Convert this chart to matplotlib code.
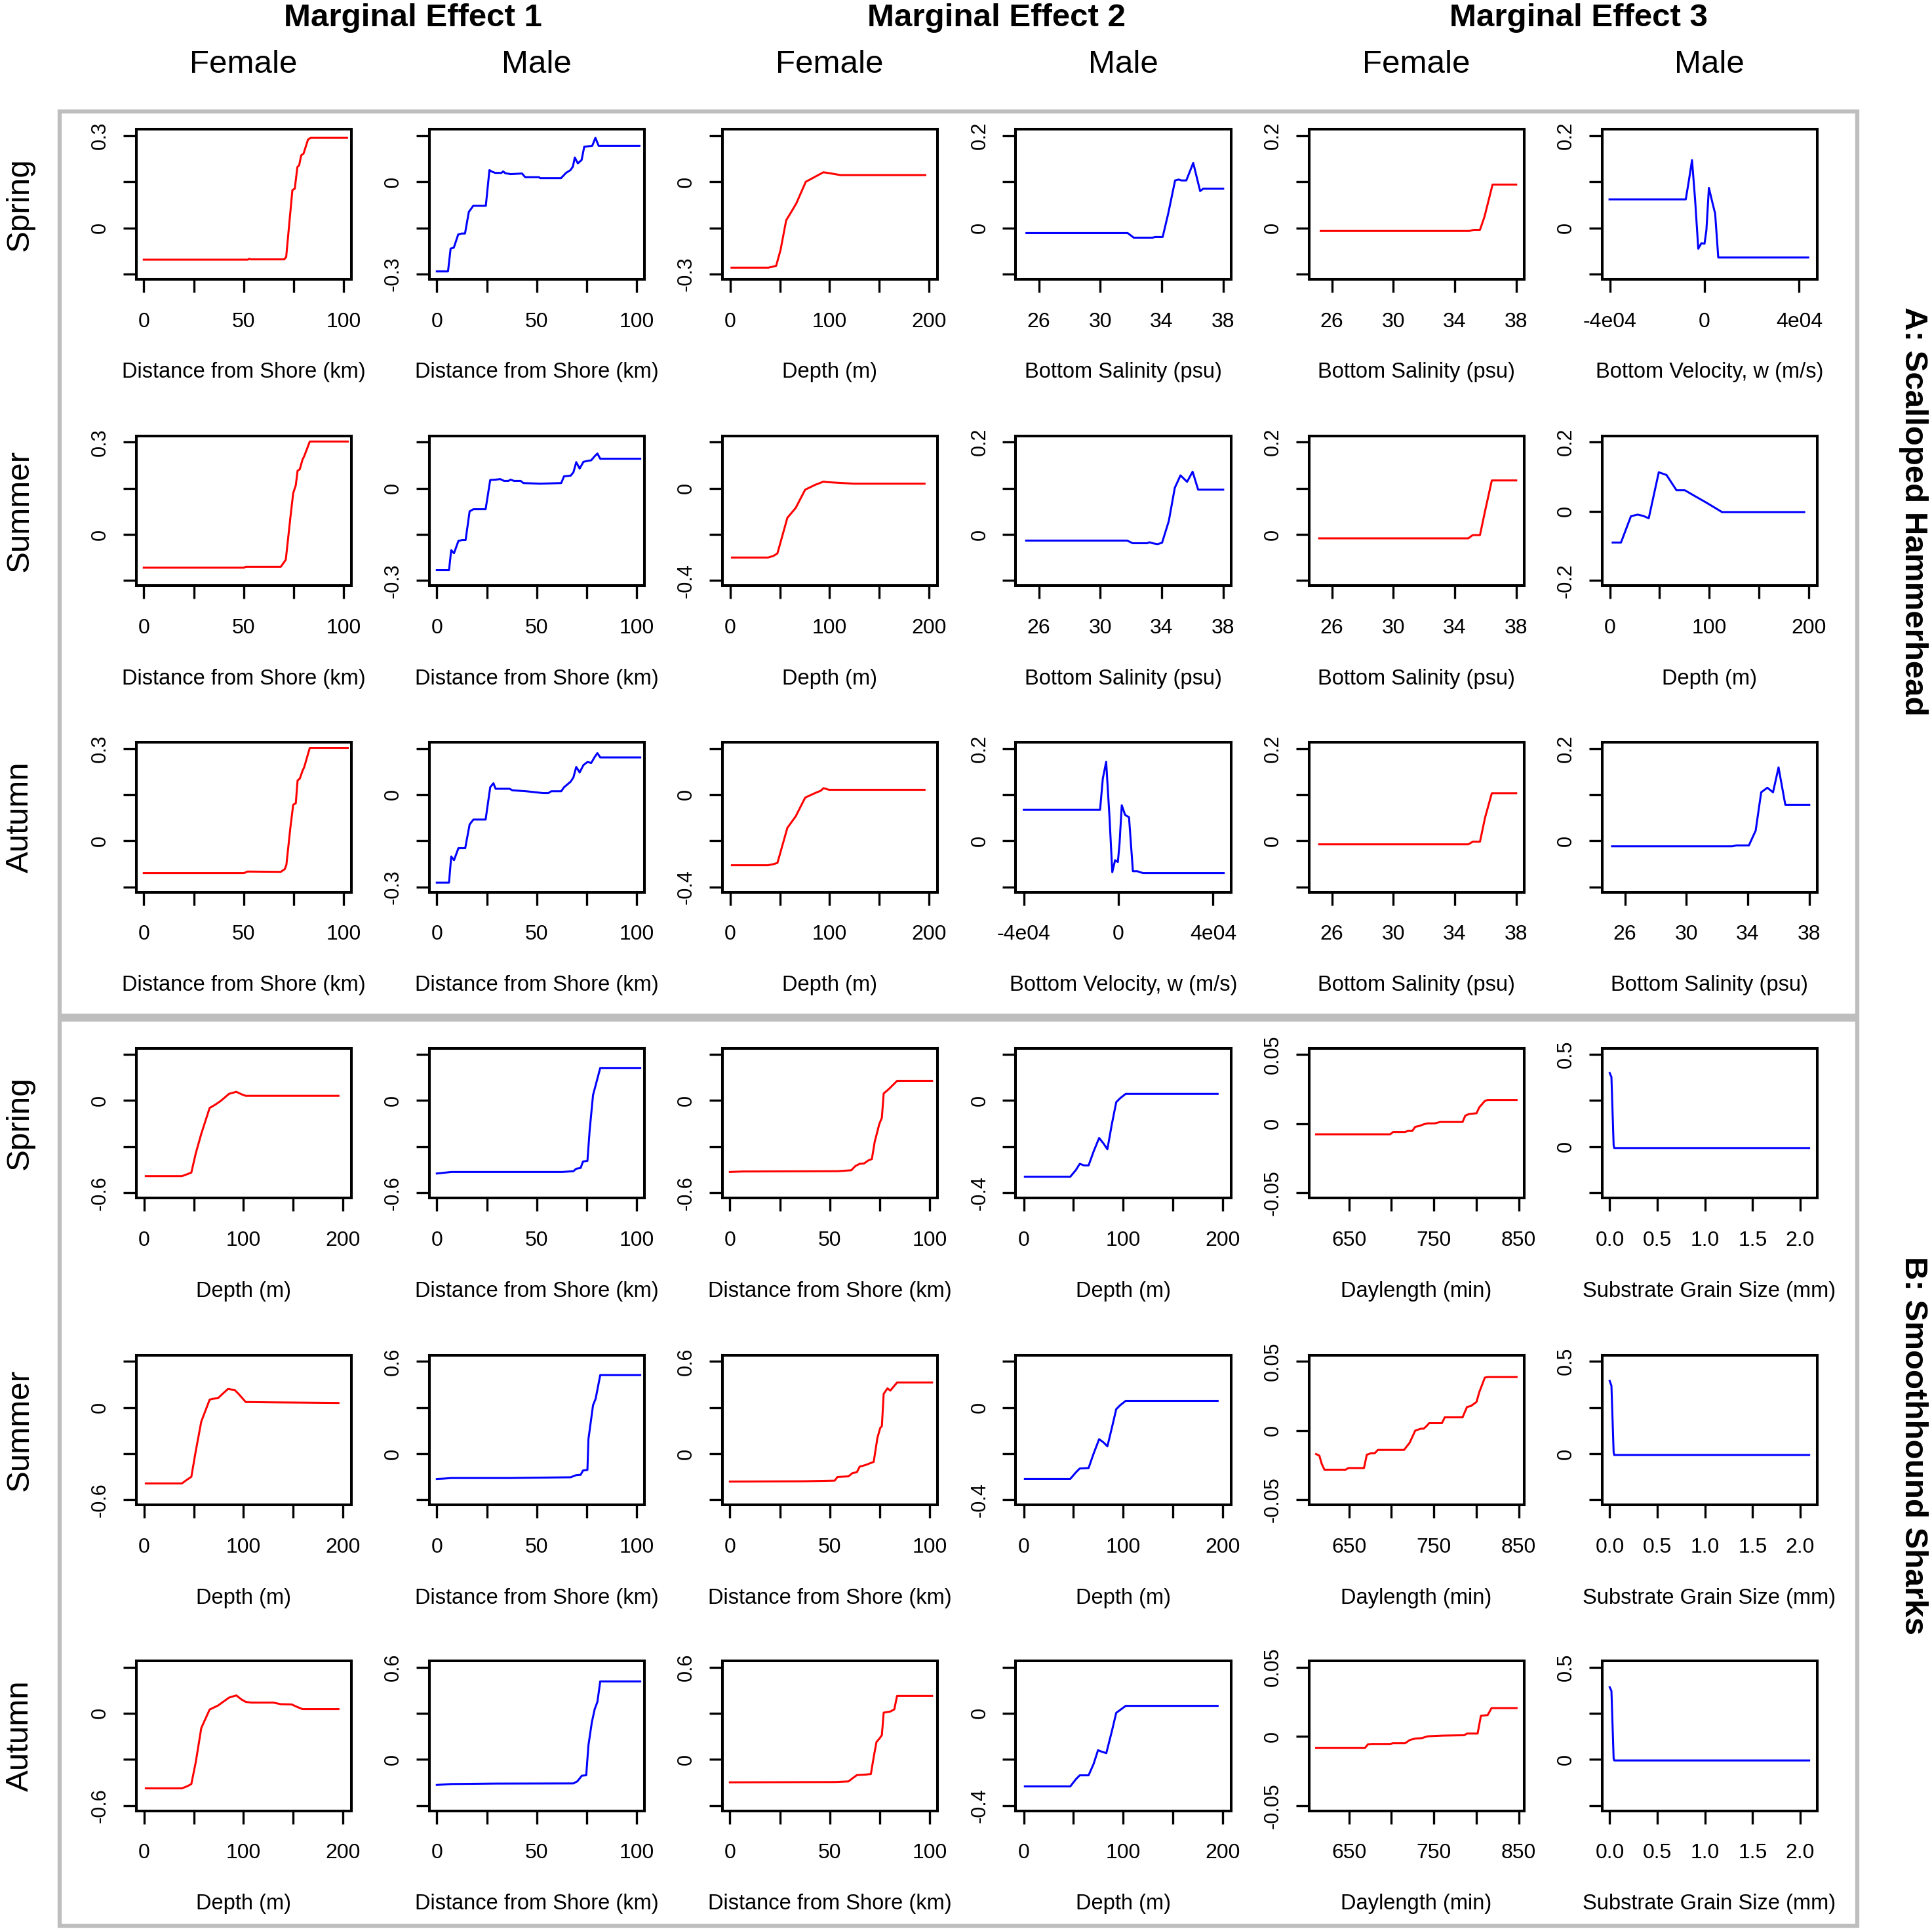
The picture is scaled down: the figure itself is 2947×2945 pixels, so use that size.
import matplotlib
matplotlib.use("Agg")
import matplotlib.pyplot as plt
from matplotlib.patches import Rectangle

plt.rcParams['font.family'] = ['Liberation Sans', 'DejaVu Sans']

# ---------------- data ----------------
# A: Scalloped Hammerhead
hh_spring_f1_x = [0, 52, 52.7, 53.5, 70.2, 71.2, 74.3, 75.5, 76.8, 77.7, 78.7, 79.9, 82.1, 83.4, 101.6]
hh_spring_f1_y = [-0.103, -0.103, -0.100, -0.102, -0.102, -0.094, 0.123, 0.128, 0.198, 0.204, 0.236, 0.242, 0.287, 0.293, 0.293]
hh_spring_m1_x = [0, 5.6, 6.9, 8.5, 10.7, 12.5, 14.1, 16.0, 18.2, 24.5, 26.3, 27.6, 29.2, 32.3, 33.2, 34.2, 37.0, 42.6, 44.2, 51.1, 51.7, 62.1, 64.6, 66.8, 68.0, 69.0, 70.5, 72.4, 73.7, 77.7, 79.3, 80.9, 101.3]
hh_spring_m1_y = [-0.291, -0.291, -0.217, -0.214, -0.171, -0.168, -0.168, -0.098, -0.078, -0.078, 0.038, 0.033, 0.029, 0.029, 0.034, 0.028, 0.025, 0.027, 0.015, 0.015, 0.012, 0.012, 0.029, 0.038, 0.049, 0.079, 0.060, 0.071, 0.114, 0.117, 0.143, 0.117, 0.117]
hh_spring_f2_x = [1.3, 38.6, 46.2, 50.6, 56.3, 61.4, 66.5, 76.0, 93.7, 98.1, 110.8, 196.2]
hh_spring_f2_y = [-0.279, -0.279, -0.273, -0.222, -0.125, -0.098, -0.070, 0.0, 0.031, 0.029, 0.022, 0.022]
hh_spring_m2_x = [25.19, 31.78, 32.18, 33.40, 33.57, 34.06, 34.42, 34.87, 35.11, 35.28, 35.60, 36.05, 36.50, 36.70, 38.0]
hh_spring_m2_y = [-0.011, -0.011, -0.021, -0.021, -0.0195, -0.0195, 0.031, 0.103, 0.105, 0.103, 0.103, 0.141, 0.080, 0.085, 0.085]
hh_spring_f3_x = [25.27, 34.95, 35.24, 35.64, 35.93, 36.46, 38.0]
hh_spring_f3_y = [-0.0065, -0.0065, -0.004, -0.004, 0.024, 0.094, 0.094]
hh_spring_m3_x = [-40130, -7920, -6600, -5280, -3960, -2640, -1320, 0, 790, 1850, 3430, 4490, 5810, 43830]
hh_spring_m3_y = [0.062, 0.062, 0.103, 0.147, 0.060, -0.045, -0.033, -0.034, -0.005, 0.087, 0.053, 0.031, -0.064, -0.064]

hh_summer_f1_x = [0, 50.1, 51.0, 68.5, 69.9, 71.0, 73.3, 74.7, 76.0, 76.9, 78.0, 79.4, 80.2, 83.0, 102.0]
hh_summer_f1_y = [-0.108, -0.108, -0.105, -0.105, -0.0925, -0.082, 0.055, 0.134, 0.160, 0.207, 0.212, 0.244, 0.254, 0.302, 0.302]
hh_summer_m1_x = [0, 6.1, 7.2, 8.6, 10.8, 12.8, 14.4, 16.4, 18.3, 24.4, 26.7, 29.4, 31.7, 33.6, 35.8, 36.9, 38.6, 41.9, 43.3, 51.7, 62.2, 63.6, 66.9, 68.3, 69.7, 71.4, 73.3, 75.3, 77.2, 78.9, 80.3, 81.7, 101.7]
hh_summer_m1_y = [-0.266, -0.266, -0.201, -0.211, -0.171, -0.168, -0.168, -0.075, -0.068, -0.068, 0.027, 0.028, 0.030, 0.024, 0.024, 0.028, 0.024, 0.024, 0.017, 0.015, 0.017, 0.039, 0.041, 0.052, 0.085, 0.064, 0.086, 0.089, 0.091, 0.104, 0.113, 0.096, 0.096]
hh_summer_f2_x = [1.7, 38.0, 43.6, 47.5, 57.5, 65.9, 75.4, 85.5, 93.9, 96.6, 107.8, 124.6, 195.5]
hh_summer_f2_y = [-0.300, -0.300, -0.293, -0.282, -0.128, -0.085, -0.006, 0.015, 0.029, 0.027, 0.024, 0.020, 0.020]
hh_summer_m2_x = [25.17, 31.75, 32.11, 33.05, 33.19, 33.48, 33.73, 34.02, 34.46, 34.85, 35.22, 35.65, 36.01, 36.37, 38.0]
hh_summer_m2_y = [-0.0133, -0.0133, -0.019, -0.019, -0.017, -0.0196, -0.021, -0.018, 0.029, 0.101, 0.128, 0.114, 0.136, 0.097, 0.097]
hh_summer_f3_x = [25.17, 34.88, 35.17, 35.64, 35.97, 36.41, 38.0]
hh_summer_f3_y = [-0.0084, -0.0084, -0.0014, -0.0014, 0.0505, 0.117, 0.117]
hh_summer_m3_x = [2.8, 11.2, 21.2, 27.9, 33.5, 39.1, 49.2, 57.0, 67.0, 75.4, 83.8, 97.8, 112.8, 195.5]
hh_summer_m3_y = [-0.090, -0.090, -0.014, -0.0094, -0.013, -0.020, 0.113, 0.105, 0.061, 0.061, 0.047, 0.024, -0.002, -0.002]

hh_autumn_f1_x = [0, 50.1, 51.8, 68.5, 70.5, 71.3, 73.3, 74.7, 76.0, 76.9, 78.0, 79.4, 80.2, 83.0, 102.0]
hh_autumn_f1_y = [-0.105, -0.105, -0.100, -0.101, -0.092, -0.078, 0.043, 0.117, 0.122, 0.196, 0.202, 0.228, 0.239, 0.302, 0.302]
hh_autumn_m1_x = [0, 6.1, 7.2, 8.6, 10.8, 14.2, 16.4, 18.3, 24.4, 26.7, 28.3, 29.4, 36.4, 37.8, 44.7, 53.1, 55.8, 57.2, 62.2, 63.6, 66.9, 68.3, 69.7, 71.4, 73.3, 75.3, 77.2, 78.9, 80.3, 81.7, 101.7]
hh_autumn_m1_y = [-0.286, -0.286, -0.201, -0.213, -0.174, -0.174, -0.097, -0.081, -0.081, 0.024, 0.037, 0.019, 0.019, 0.014, 0.011, 0.005, 0.005, 0.011, 0.011, 0.024, 0.042, 0.056, 0.090, 0.072, 0.096, 0.106, 0.103, 0.122, 0.135, 0.121, 0.121]
hh_autumn_f2_x = [1.7, 38.0, 43.6, 47.5, 57.5, 65.9, 75.4, 85.5, 91.1, 93.9, 99.4, 195.5]
hh_autumn_f2_y = [-0.306, -0.306, -0.301, -0.296, -0.144, -0.094, -0.013, 0.007, 0.017, 0.028, 0.021, 0.021]
hh_autumn_m2_x = [-40000, -7760, -6590, -5180, -3760, -2590, -1410, -240, 470, 1410, 2820, 4470, 6120, 8000, 10350, 44470]
hh_autumn_m2_y = [0.067, 0.067, 0.135, 0.171, 0.050, -0.068, -0.042, -0.046, -0.006, 0.077, 0.056, 0.051, -0.066, -0.066, -0.070, -0.070]
hh_autumn_f3_x = [25.17, 34.88, 35.17, 35.64, 35.97, 36.41, 38.0]
hh_autumn_f3_y = [-0.0077, -0.0077, -0.002, -0.002, 0.050, 0.103, 0.103]
hh_autumn_m3_x = [25.16, 32.98, 33.27, 34.07, 34.51, 34.87, 35.27, 35.64, 36.0, 36.44, 38.0]
hh_autumn_m3_y = [-0.012, -0.012, -0.010, -0.010, 0.022, 0.105, 0.115, 0.105, 0.159, 0.078, 0.078]

# B: Smoothhound Sharks
sh_spring_f1_x = [1.7, 38.0, 43.6, 47.5, 52.0, 57.5, 65.9, 71.5, 77.1, 85.5, 92.7, 98.3, 102.2, 195.5]
sh_spring_f1_y = [-0.491, -0.491, -0.478, -0.468, -0.342, -0.216, -0.048, -0.027, -0.002, 0.044, 0.057, 0.040, 0.031, 0.031]
sh_spring_m1_x = [0, 3.1, 7.2, 62.8, 68.3, 69.7, 71.9, 73.1, 75.3, 76.4, 78.1, 79.4, 81.7, 101.7]
sh_spring_m1_y = [-0.474, -0.470, -0.464, -0.464, -0.459, -0.443, -0.438, -0.396, -0.392, -0.195, 0.036, 0.099, 0.212, 0.212]
sh_spring_f2_x = [0, 6.4, 53.8, 60.7, 62.7, 64.9, 67.1, 69.1, 71.0, 72.4, 74.7, 76.0, 76.9, 78.8, 80.2, 83.6, 101.1]
sh_spring_f2_y = [-0.464, -0.461, -0.459, -0.453, -0.426, -0.411, -0.409, -0.390, -0.380, -0.269, -0.153, -0.111, 0.046, 0.067, 0.084, 0.128, 0.128]
sh_spring_m2_x = [1.1, 46.8, 52.4, 56.3, 60.7, 65.2, 70.2, 75.8, 80.2, 84.1, 88.6, 93.0, 96.9, 102.5, 195.0]
sh_spring_m2_y = [-0.330, -0.330, -0.301, -0.274, -0.281, -0.281, -0.221, -0.162, -0.186, -0.211, -0.102, -0.007, 0.010, 0.029, 0.029]
sh_spring_f3_x = [611.3, 698.5, 701.8, 716.2, 719.5, 724.8, 728.0, 733.3, 737.9, 742.5, 751.0, 757.5, 783.8, 787.0, 791.6, 800.2, 803.4, 810.0, 813.3, 847.4]
sh_spring_f3_y = [-0.0077, -0.0077, -0.0061, -0.0061, -0.0051, -0.0051, -0.0023, -0.0016, -0.0005, 0.0002, 0.0002, 0.0012, 0.0012, 0.0058, 0.0070, 0.0075, 0.0117, 0.0164, 0.0171, 0.0171]
sh_spring_m3_x = [0.0, 0.018, 0.041, 0.047, 2.094]
sh_spring_m3_y = [0.399, 0.377, 0.009, -0.007, -0.007]

sh_summer_f1_x = [1.7, 38.0, 43.6, 47.5, 52.0, 57.5, 65.9, 68.7, 74.3, 79.9, 84.4, 91.1, 95.0, 102.2, 127.4, 195.5]
sh_summer_f1_y = [-0.493, -0.493, -0.467, -0.450, -0.281, -0.091, 0.051, 0.057, 0.061, 0.095, 0.121, 0.114, 0.089, 0.036, 0.034, 0.030]
sh_summer_m1_x = [0, 3.1, 7.2, 36.4, 66.9, 69.7, 71.9, 73.1, 75.3, 75.8, 78.1, 79.4, 81.7, 101.7]
sh_summer_m1_y = [-0.164, -0.162, -0.158, -0.158, -0.153, -0.139, -0.137, -0.109, -0.105, 0.095, 0.315, 0.357, 0.511, 0.511]
sh_summer_f2_x = [0, 37.0, 52.4, 53.8, 59.3, 61.3, 63.5, 64.9, 67.7, 69.9, 71.9, 73.8, 75.2, 76.0, 76.9, 78.8, 80.2, 83.6, 101.1]
sh_summer_f2_y = [-0.181, -0.179, -0.175, -0.151, -0.147, -0.126, -0.120, -0.084, -0.074, -0.063, -0.053, 0.105, 0.168, 0.179, 0.389, 0.425, 0.410, 0.463, 0.463]
sh_summer_m2_x = [1.1, 46.8, 52.4, 56.3, 65.2, 70.2, 75.8, 80.2, 84.1, 88.6, 93.0, 96.9, 102.5, 195.0]
sh_summer_m2_y = [-0.309, -0.309, -0.281, -0.264, -0.262, -0.200, -0.137, -0.151, -0.168, -0.088, -0.007, 0.010, 0.029, 0.029]
sh_summer_f3_x = [611.3, 615.2, 617.9, 621.1, 646.1, 649.3, 667.7, 671.0, 675.6, 680.2, 684.1, 714.9, 721.5, 728.0, 734.6, 737.9, 741.1, 744.4, 759.5, 762.8, 783.8, 789.0, 793.6, 800.2, 803.4, 810.0, 813.3, 847.4]
sh_summer_f3_y = [-0.0169, -0.0181, -0.0239, -0.0282, -0.0282, -0.0270, -0.0270, -0.0174, -0.0164, -0.0164, -0.0139, -0.0139, -0.0087, 0.0, 0.0014, 0.0014, 0.0031, 0.0054, 0.0054, 0.0096, 0.0096, 0.0171, 0.0178, 0.0207, 0.0277, 0.0383, 0.0387, 0.0387]
sh_summer_m3_x = [0.0, 0.018, 0.041, 0.047, 2.094]
sh_summer_m3_y = [0.394, 0.368, 0.009, -0.007, -0.007]

sh_autumn_f1_x = [1.7, 38.0, 43.6, 47.5, 52.0, 57.5, 65.9, 74.3, 79.9, 85.5, 92.7, 98.3, 102.2, 107.8, 130.2, 137.4, 148.6, 152.5, 159.2, 195.5]
sh_autumn_f1_y = [-0.488, -0.488, -0.474, -0.460, -0.316, -0.096, 0.024, 0.050, 0.076, 0.102, 0.116, 0.088, 0.074, 0.069, 0.069, 0.059, 0.057, 0.045, 0.027, 0.027]
sh_autumn_m1_x = [0, 7.2, 29.4, 68.3, 70.3, 72.5, 74.7, 75.8, 77.5, 78.9, 80.3, 81.7, 101.7]
sh_autumn_m1_y = [-0.166, -0.160, -0.157, -0.156, -0.142, -0.106, -0.103, 0.092, 0.241, 0.325, 0.375, 0.507, 0.507]
sh_autumn_f2_x = [0, 52.4, 59.3, 61.3, 63.5, 67.7, 70.5, 71.9, 73.3, 74.7, 76.0, 76.9, 80.2, 82.2, 83.6, 101.1]
sh_autumn_f2_y = [-0.149, -0.147, -0.143, -0.123, -0.102, -0.099, -0.095, 0.014, 0.113, 0.134, 0.158, 0.304, 0.311, 0.325, 0.413, 0.413]
sh_autumn_m2_x = [1.1, 46.8, 52.4, 56.3, 65.2, 70.2, 74.7, 77.4, 83.0, 88.6, 93.0, 96.9, 102.5, 195.0]
sh_autumn_m2_y = [-0.317, -0.317, -0.286, -0.269, -0.269, -0.220, -0.160, -0.165, -0.173, -0.078, 0.002, 0.014, 0.032, 0.032]
sh_autumn_f3_x = [611.3, 669.0, 672.3, 676.9, 698.5, 701.8, 716.2, 721.5, 728.0, 735.9, 742.5, 760.8, 785.7, 789.0, 801.5, 805.4, 813.3, 817.9, 847.4]
sh_autumn_f3_y = [-0.0083, -0.0083, -0.0058, -0.0055, -0.0055, -0.0050, -0.0050, -0.0027, -0.0016, -0.0013, 0.0, 0.0005, 0.0008, 0.0020, 0.0020, 0.0149, 0.0153, 0.0204, 0.0204]
sh_autumn_m3_x = [0.0, 0.018, 0.041, 0.047, 2.094]
sh_autumn_m3_y = [0.391, 0.371, 0.006, -0.006, -0.006]

col_groups = ['Marginal Effect 1', 'Marginal Effect 2', 'Marginal Effect 3']
col_sexes = ['Female', 'Male', 'Female', 'Male', 'Female', 'Male']
seasons = ['Spring', 'Summer', 'Autumn']
species = ['A: Scalloped Hammerhead', 'B: Smoothhound Sharks']

# covariate of each panel, row by row
panel_vars = [
    ['dist', 'dist', 'depth', 'sal', 'sal', 'vel'],
    ['dist', 'dist', 'depth', 'sal', 'sal', 'depth'],
    ['dist', 'dist', 'depth', 'vel', 'sal', 'sal'],
    ['depth', 'dist', 'dist', 'depth', 'day', 'grain'],
    ['depth', 'dist', 'dist', 'depth', 'day', 'grain'],
    ['depth', 'dist', 'dist', 'depth', 'day', 'grain'],
]
panel_data = [
    [(hh_spring_f1_x, hh_spring_f1_y), (hh_spring_m1_x, hh_spring_m1_y), (hh_spring_f2_x, hh_spring_f2_y),
     (hh_spring_m2_x, hh_spring_m2_y), (hh_spring_f3_x, hh_spring_f3_y), (hh_spring_m3_x, hh_spring_m3_y)],
    [(hh_summer_f1_x, hh_summer_f1_y), (hh_summer_m1_x, hh_summer_m1_y), (hh_summer_f2_x, hh_summer_f2_y),
     (hh_summer_m2_x, hh_summer_m2_y), (hh_summer_f3_x, hh_summer_f3_y), (hh_summer_m3_x, hh_summer_m3_y)],
    [(hh_autumn_f1_x, hh_autumn_f1_y), (hh_autumn_m1_x, hh_autumn_m1_y), (hh_autumn_f2_x, hh_autumn_f2_y),
     (hh_autumn_m2_x, hh_autumn_m2_y), (hh_autumn_f3_x, hh_autumn_f3_y), (hh_autumn_m3_x, hh_autumn_m3_y)],
    [(sh_spring_f1_x, sh_spring_f1_y), (sh_spring_m1_x, sh_spring_m1_y), (sh_spring_f2_x, sh_spring_f2_y),
     (sh_spring_m2_x, sh_spring_m2_y), (sh_spring_f3_x, sh_spring_f3_y), (sh_spring_m3_x, sh_spring_m3_y)],
    [(sh_summer_f1_x, sh_summer_f1_y), (sh_summer_m1_x, sh_summer_m1_y), (sh_summer_f2_x, sh_summer_f2_y),
     (sh_summer_m2_x, sh_summer_m2_y), (sh_summer_f3_x, sh_summer_f3_y), (sh_summer_m3_x, sh_summer_m3_y)],
    [(sh_autumn_f1_x, sh_autumn_f1_y), (sh_autumn_m1_x, sh_autumn_m1_y), (sh_autumn_f2_x, sh_autumn_f2_y),
     (sh_autumn_m2_x, sh_autumn_m2_y), (sh_autumn_f3_x, sh_autumn_f3_y), (sh_autumn_m3_x, sh_autumn_m3_y)],
]

# y ticks (value, label) per panel
Y_A1 = ([-0.15, 0, 0.15, 0.3], ['', '0', '', '0.3'])
Y_A2 = ([-0.3, -0.15, 0, 0.15], ['-0.3', '', '0', ''])
Y_A3 = ([-0.4, -0.2, 0, 0.2], ['-0.4', '', '0', ''])
Y_A4 = ([-0.1, 0, 0.1, 0.2], ['', '0', '', '0.2'])
Y_A5 = ([-0.2, 0, 0.2], ['-0.2', '0', '0.2'])
Y_B1 = ([-0.6, -0.3, 0, 0.3], ['-0.6', '', '0', ''])
Y_B2 = ([-0.3, 0, 0.3, 0.6], ['', '0', '', '0.6'])
Y_B3 = ([-0.4, -0.2, 0, 0.2], ['-0.4', '', '0', ''])
Y_B4 = ([-0.05, 0, 0.05], ['-0.05', '0', '0.05'])
Y_B5 = ([-0.25, 0, 0.25, 0.5], ['', '0', '', '0.5'])
panel_yticks = [
    [Y_A1, Y_A2, Y_A2, Y_A4, Y_A4, Y_A4],
    [Y_A1, Y_A2, Y_A3, Y_A4, Y_A4, Y_A5],
    [Y_A1, Y_A2, Y_A3, Y_A4, Y_A4, Y_A4],
    [Y_B1, Y_B1, Y_B1, Y_B3, Y_B4, Y_B5],
    [Y_B1, Y_B2, Y_B2, Y_B3, Y_B4, Y_B5],
    [Y_B1, Y_B2, Y_B2, Y_B3, Y_B4, Y_B5],
]

XLAB = {'dist': 'Distance from Shore (km)', 'depth': 'Depth (m)', 'sal': 'Bottom Salinity (psu)',
        'vel': 'Bottom Velocity, w (m/s)', 'day': 'Daylength (min)', 'grain': 'Substrate Grain Size (mm)'}
XTICKS = {'dist': ([0, 25, 50, 75, 100], ['0', '', '50', '', '100']),
          'depth': ([0, 50, 100, 150, 200], ['0', '', '100', '', '200']),
          'sal': ([26, 30, 34, 38], ['26', '30', '34', '38']),
          'vel': ([-40000, 0, 40000], ['-4e04', '0', '4e04']),
          'day': ([650, 700, 750, 800, 850], ['650', '', '750', '', '850']),
          'grain': ([0, 0.5, 1.0, 1.5, 2.0], ['0.0', '0.5', '1.0', '1.5', '2.0'])}
XLIM = {'dist': (-3.8, 103.7), 'depth': (-8, 208.3), 'sal': (24.5, 38.5),
        'vel': (-43350, 47500), 'day': (602.8, 856), 'grain': (-0.082, 2.176)}

# ---------------- layout (pixels) ----------------
W, H, DPI = 2947, 2945, 100
LEFTS = [207.7, 654.7, 1101.7, 1549.5, 1996.5, 2443.5]
TOPS = [197.4, 664.8, 1132.0, 1598.6, 2066.8, 2533.0]
AW, AH = 328, 228.5
RED, BLUE = '#FF0000', '#0000FF'

fig = plt.figure(figsize=(W / DPI, H / DPI), dpi=DPI)


def frac(x, y, w, h):
    return [x / W, 1 - (y + h) / H, w / W, h / H]


for r in range(6):
    for c in range(6):
        ax = fig.add_axes(frac(LEFTS[c], TOPS[r], AW, AH))
        xs, ys = panel_data[r][c]
        var = panel_vars[r][c]
        ax.plot(xs, ys, color=RED if c % 2 == 0 else BLUE, lw=2.2)
        yt, yl = panel_yticks[r][c]
        span = yt[-1] - yt[0]
        ax.set_ylim(yt[0] - 0.037 * span, yt[-1] + 0.045 * span)
        ax.set_yticks(yt, yl)
        ax.set_xlim(*XLIM[var])
        ax.set_xticks(*XTICKS[var])
        for s in ax.spines.values():
            s.set_linewidth(2.9)
        ax.tick_params(axis='both', direction='out', length=14.4, width=2.4, colors='black')
        ax.tick_params(axis='x', labelsize=23, pad=21.5)
        ax.tick_params(axis='y', labelsize=22, pad=14.5, labelrotation=90)
        for lab in ax.get_yticklabels():
            lab.set_va('center')
            lab.set_ha('right')
        ax.set_xlabel(XLAB[var], fontsize=23.5)
        ax.xaxis.set_label_coords(0.5, -142 / AH)
        ax.xaxis.label.set_va('center')

# column headers
for i, g in enumerate(col_groups):
    fig.text([630, 1520, 2408][i] / W, 1 - 40 / H, g, fontsize=35.5, fontweight='bold',
             ha='center', va='baseline')
for c, s in enumerate(col_sexes):
    fig.text((LEFTS[c] + AW / 2) / W, 1 - 111 / H, s, fontsize=35.5, ha='center', va='baseline')

# season labels on the left
for r in range(6):
    fig.text(30.5 / W, 1 - (TOPS[r] + AH / 2) / H, seasons[r % 3], fontsize=35.5,
             rotation=90, ha='center', va='center')

# species labels on the right
for i, sp in enumerate(species):
    fig.text(2918 / W, 1 - [780, 2205][i] / H, sp, fontsize=35.5, fontweight='bold',
             rotation=-90, ha='center', va='center')

# grey frames around the two species blocks
for top, bot in [(170, 1549), (1555, 2937)]:
    fig.add_artist(Rectangle((90.5 / W, 1 - bot / H), (2833 - 90.5) / W, (bot - top) / H,
                             transform=fig.transFigure, fill=False, edgecolor='#BEBEBE', lw=4.5))

fig.savefig('out.png', dpi=DPI)
